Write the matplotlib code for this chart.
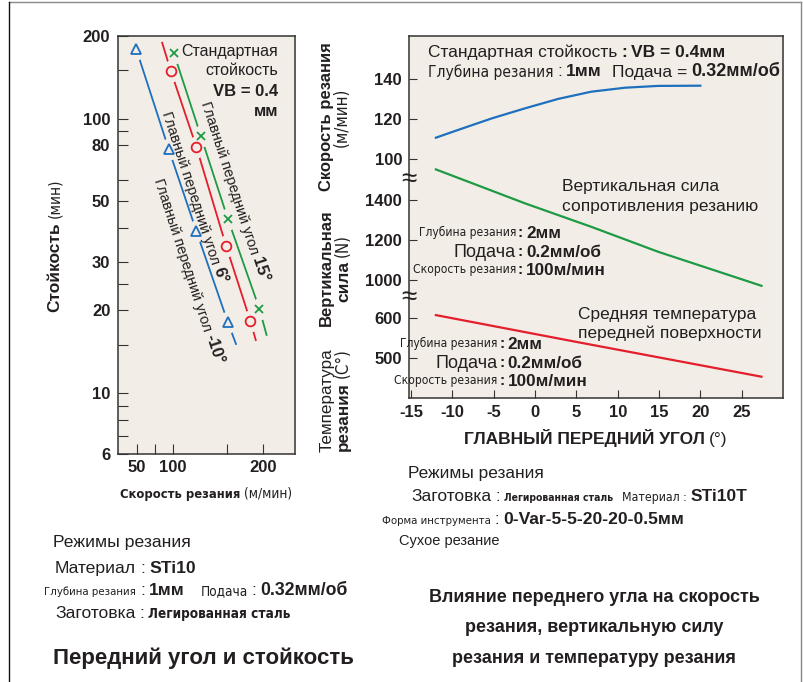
import numpy as np
import matplotlib
matplotlib.use('Agg')
import matplotlib.pyplot as plt
from matplotlib import font_manager
from matplotlib.ticker import FixedLocator, FuncFormatter, NullFormatter
from matplotlib.lines import Line2D

# left chart: tool life vs cutting speed for three rake angles (-10, 6, 15 deg)
speed_m10 = [49, 94, 126, 161]
life_m10 = [179, 77.5, 38.9, 18.1]
speed_6 = [97, 126, 159, 186]
life_6 = [149, 78.8, 34.4, 18.3]
speed_15 = [101, 131, 161, 196]
life_15 = [173, 86.4, 43.1, 20.3]
# where each drawn line starts / stops (order -10, 6, 15)
head_speed = [49, 85, 101]
head_life = [179, 189, 173]
tail_speed = [170, 192, 204]
tail_life = [15.1, 15.6, 16.3]
life_ticks = [6, 10, 20, 30, 50, 80, 100, 200]
life_minor = [7, 8, 9, 15, 25, 40, 60, 90, 150]
speed_ticks = [50, 100, 200]
speed_minor = [75, 160]

# right chart: rake angle vs cutting speed / vertical force / temperature
rake = [-12, -9.3, -5.2, -1.2, 2.8, 6.8, 10.9, 14.9, 20]
cut_speed = [110.8, 114.7, 120.5, 125.5, 130.2, 133.8, 135.8, 136.7, 136.8]
rake_force = [-12, -1.2, 6.8, 14.9, 27.4]
force = [1553, 1383, 1266, 1141, 971]
rake_temp = [-12, 5, 27.4]
temp = [608, 541, 454]
rake_ticks = [-15, -10, -5, 0, 5, 10, 15, 20, 25]
speed_yticks = [100, 120, 140]
force_yticks = [1000, 1200, 1400]
temp_yticks = [500, 600]

BG = '#f2eee7'
INK = '#231f20'
FRAME = '#333333'
BLUE = '#1f6fbf'
RED = '#e41e2b'
GREEN = '#1e9a45'

plt.rcParams['font.family'] = ['Liberation Sans', 'DejaVu Sans']
plt.rcParams['text.color'] = INK
plt.rcParams['axes.unicode_minus'] = False

W, H = 804, 682
fig = plt.figure(figsize=(W / 100, H / 100), dpi=100)
R = fig.canvas.get_renderer()

# narrow font if there is one
fl = font_manager.fontManager.ttflist
if any(f.name == 'Liberation Sans Narrow' for f in fl):
    NARROW = dict(family='Liberation Sans Narrow')
    NSCALE = 1.0
elif any(f.name == 'DejaVu Sans' and f.stretch == 'condensed' for f in fl):
    NARROW = dict(family='DejaVu Sans', fontstretch='condensed')
    NSCALE = 0.93
else:
    NARROW = dict(family='Liberation Sans')
    NSCALE = 0.85


def S(size, bold=False, narrow=False):
    d = dict(fontsize=size, fontweight='bold' if bold else 'normal', color=INK)
    if narrow:
        d.update(NARROW)
        d['fontsize'] = size * NSCALE
    else:
        d['family'] = 'Liberation Sans'
    return d


def twidth(s, sty):
    t = fig.text(0, 0, s, **sty)
    w = t.get_window_extent(R).width
    t.remove()
    return w


def rich(px, py, parts, rot=0, ha='left', gap=4):
    # parts drawn one after another, (px, py) = pixel position of the text centre line
    th = np.deg2rad(rot)
    d = np.array([np.cos(th), -np.sin(th)])
    dn = np.array([np.sin(th), np.cos(th)])
    ws = [twidth(p[0], p[1]) for p in parts]
    gaps = [0] + [p[2] if len(p) > 2 else gap for p in parts[1:]]
    total = sum(ws) + sum(gaps)
    off = {'left': 0, 'center': total / 2, 'right': total}[ha]
    size_px = max(p[1]['fontsize'] for p in parts) * 100 / 72
    base = np.array([px, py], float) + dn * 0.36 * size_px - d * off
    pos = 0
    for p, w, g in zip(parts, ws, gaps):
        pos += g
        x, y = base + d * pos
        fig.text(x / W, 1 - y / H, p[0], rotation=rot, rotation_mode='anchor',
                 ha='left', va='baseline', **p[1])
        pos += w


def style_ticks(ax, length):
    ax.tick_params(which='both', direction='in', length=length, width=0.8,
                   color=FRAME, labelsize=12, labelcolor=INK)
    for lab in ax.get_xticklabels() + ax.get_yticklabels():
        lab.set_fontweight('bold')
    for sp in ax.spines.values():
        sp.set_color(FRAME)
        sp.set_linewidth(1.1)


# ---------------- left chart ----------------
scale_v = [0, 50, 100, 200, 300]
scale_p = [101, 137, 173, 263, 353]


def fwd(v):
    return np.interp(v, scale_v, scale_p)


def inv(p):
    return np.interp(p, scale_p, scale_v)


ax1 = fig.add_axes([118 / W, 1 - 454 / H, 177 / W, 418 / H])
ax1.set_facecolor(BG)
ax1.set_xscale('function', functions=(fwd, inv))
ax1.set_yscale('log')
ax1.set_xlim(23.6, 235.6)
ax1.set_ylim(6, 200)

series = [(speed_m10, life_m10, BLUE, '^', 6.5),
          (speed_6, life_6, RED, 'o', 7),
          (speed_15, life_15, GREEN, 'x', 5.5)]
for i, (sx, sy, c, m, ms) in enumerate(series):
    xs = [head_speed[i]] + sx + [tail_speed[i]]
    ys = [head_life[i]] + sy + [tail_life[i]]
    ax1.plot(xs, ys, color=c, lw=1.3, zorder=2)
    ax1.plot(sx, sy, ls='none', marker=(2, 2, 18), ms=15, mew=5, color=BG, zorder=3)
    ax1.plot(sx, sy, ls='none', marker=m, ms=ms, mfc='none', mec=c, mew=1.3, zorder=4)

ax1.yaxis.set_major_locator(FixedLocator(life_ticks))
ax1.yaxis.set_minor_locator(FixedLocator(life_minor))
ax1.yaxis.set_major_formatter(FuncFormatter(lambda v, _: f'{v:g}'))
ax1.yaxis.set_minor_formatter(NullFormatter())
ax1.xaxis.set_major_locator(FixedLocator(speed_ticks))
ax1.xaxis.set_minor_locator(FixedLocator(speed_minor))
ax1.xaxis.set_major_formatter(FuncFormatter(lambda v, _: f'{v:g}'))
ax1.xaxis.set_minor_formatter(NullFormatter())
style_ticks(ax1, 7)
ax1.tick_params(axis='y', pad=5.5)
ax1.tick_params(axis='x', pad=4.5)

rich(278, 50, [('Стандартная', S(11.5))], ha='right')
rich(278, 69, [('стойкость', S(11.5))], ha='right')
rich(278, 90, [('VB = 0.4', S(12, True))], ha='right')
rich(278, 110, [('мм', S(12, True))], ha='right')

rich(207, 101, [('Главный передний угол', S(10.5)), ('15°', S(12, True))], rot=-72)
rich(168, 111, [('Главный передний угол', S(10.5)), ('6°', S(12, True))], rot=-72)
rich(160, 178, [('Главный передний угол', S(10.5)), ('-10°', S(12, True))], rot=-72)

rich(53, 245, [('Стойкость', S(12.5, True)), ('(мин)', S(12, narrow=True))], rot=90, ha='center')
rich(206, 493, [('Скорость резания', S(10, True, True)), ('(м/мин)', S(10.5, narrow=True))], ha='center')

# ---------------- right chart ----------------
rect = [409 / W, 1 - 398 / H, 374 / W, 362 / H]
ax2 = fig.add_axes(rect)
ax2.set_facecolor(BG)
ax2.set_xlim(-15.25, 30)
ax2.set_ylim(-19.35, 161.65)
ax2.plot(rake, cut_speed, color=BLUE, lw=1.6)
ax2.set_xticks(rake_ticks)
ax2.set_yticks(speed_yticks)
style_ticks(ax2, 6)
ax2.tick_params(axis='x', pad=5)
ax2.tick_params(axis='y', pad=5)

for lim, ticks, xs, ys, c in [((410, 2220), force_yticks, rake_force, force, GREEN),
                              ((400.75, 1305.75), temp_yticks, rake_temp, temp, RED)]:
    a = fig.add_axes(rect, sharex=ax2)
    a.patch.set_visible(False)
    for sp in a.spines.values():
        sp.set_visible(False)
    a.xaxis.set_visible(False)
    a.set_ylim(*lim)
    a.set_yticks(ticks)
    a.plot(xs, ys, color=c, lw=1.6, clip_on=False)
    style_ticks(a, 6)
    a.tick_params(axis='y', pad=5)

for yb in (180, 298):
    fig.text(409 / W, 1 - yb / H, '≈', fontsize=20, ha='center', va='center', color=INK)

rich(428, 51, [('Стандартная стойкость', S(12.5)), (':', S(12.5, True)), ('VB = 0.4мм', S(12.5, True))])
rich(428, 70, [('Глубина резания', S(12, narrow=True)), (':', S(12.5)), ('1мм', S(12.5, True)),
               ('Подача =', S(12.5), 10), ('0.32мм/об', S(13, True))])
rich(562, 185, [('Вертикальная сила', S(12.5))])
rich(562, 205, [('сопротивления резанию', S(12.5))])
rich(578, 313, [('Средняя температура', S(12.5))])
rich(578, 332, [('передней поверхности', S(12.5))])


def cond(cx, py, label, lsty, value):
    rich(cx - 4, py, [(label, lsty)], ha='right')
    rich(cx, py, [(':', S(11, True))], ha='center')
    rich(cx + 6, py, [(value, S(12.3, True))])


for cx, y0 in [(520, 231.7), (501.7, 342.7)]:
    cond(cx, y0, 'Глубина резания', S(9.3, narrow=True), '2мм')
    cond(cx, y0 + 19, 'Подача', S(13), '0.2мм/об')
    cond(cx, y0 + 37, 'Скорость резания', S(9.3, narrow=True), '100м/мин')

rich(325, 117, [('Скорость резания', S(12, True))], rot=90, ha='center')
rich(341, 117, [('(м/мин)', S(13, narrow=True))], rot=90, ha='center')
rich(325, 268, [('Вертикальная', S(12, True))], rot=90, ha='center')
rich(342, 268, [('сила', S(12.5, True)), ('(N)', S(13, narrow=True))], rot=90, ha='center')
rich(325, 400, [('Температура', S(12.3))], rot=90, ha='center')
rich(342, 400, [('резания', S(12.3, True)), ('(C°)', S(13, narrow=True))], rot=90, ha='center')

rich(596, 438, [('ГЛАВНЫЙ ПЕРЕДНИЙ УГОЛ', S(12.5, True)), ('(°)', S(12.5))], ha='center')

# ---------------- conditions and titles ----------------
rich(408, 471.7, [('Режимы резания', S(12.4))])
rich(411, 495, [('Заготовка', S(12.5)), (':', S(12)), ('Легированная сталь', S(8, True, True)),
                ('Материал :', S(9.5, narrow=True), 9), ('STi10T', S(12.5, True))])
rich(382, 517.7, [('Форма инструмента', S(8.8, narrow=True)), (':', S(12)),
                  ('0-Var-5-5-20-20-0.5мм', S(12.6, True))])
rich(399, 539.3, [('Сухое резание', S(10.5))])
for yy, line in zip([595, 625, 656.7], ['Влияние переднего угла на скорость',
                                         'резания, вертикальную силу',
                                         'резания и температуру резания']):
    rich(594, yy, [(line, S(13, True))], ha='center')

rich(53, 541, [('Режимы резания', S(12.6))])
rich(55, 566.7, [('Материал', S(12.6)), (':', S(12.6)), ('STi10', S(12.6, True))])
rich(44, 589, [('Глубина резания', S(8.8, narrow=True)), (':', S(12.6)), ('1мм', S(12.6, True)),
               ('Подача', S(10.5, narrow=True), 16), (':', S(12.6)), ('0.32мм/об', S(12.7, True))])
rich(55, 611.7, [('Заготовка', S(12.6)), (':', S(12.6)), ('Легированная сталь', S(10.5, True, True))])
rich(203, 655.7, [('Передний угол и стойкость', S(16, True))], ha='center')

# page frame
fig.add_artist(Line2D([9 / W, 801 / W], [1 - 2 / H, 1 - 2 / H], color='#888888', lw=1))
fig.add_artist(Line2D([9 / W, 9 / W], [0, 1 - 2 / H], color='#111111', lw=1))
fig.add_artist(Line2D([801 / W, 801 / W], [0, 1 - 2 / H], color='#888888', lw=1))

fig.savefig('out.png', dpi=100, facecolor='white')
